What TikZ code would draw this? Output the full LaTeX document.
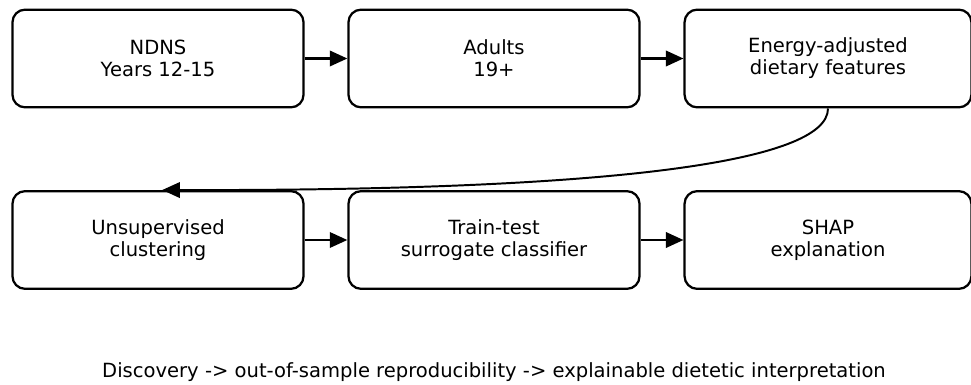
\documentclass[tikz,border=0pt]{standalone}
\usepackage{fontspec}
\setmainfont{DejaVu Sans}
\usepackage{tikz}
\usetikzlibrary{arrows.meta,positioning}
\definecolor{BoxInk}{HTML}{000000}
\tikzset{
  flowbox/.style={draw=BoxInk, line width=1.6pt, rounded corners=9pt, minimum width=207pt, minimum height=69.5pt, align=center, font=\fontsize{13.9}{15.6}\selectfont, inner sep=0pt},
  flowarrow/.style={BoxInk, line width=1.6pt, -{Triangle[length=12.5pt,width=11pt]}}
}
\begin{document}
\begin{tikzpicture}[x=0.025cm, y=-0.025cm]
  \useasboundingbox (0,0) rectangle (971,385);
  \node[flowbox] (ndns) at (158,58.5) {NDNS\\Years 12-15};
  \node[flowbox] (adults) at (494,58.5) {Adults\\19+};
  \node[flowbox, minimum width=204pt] (energy) at (828,58.5) {Energy-adjusted\\dietary features};
  \node[flowbox] (cluster) at (158,240) {Unsupervised\\clustering};
  \node[flowbox] (surrogate) at (494,240) {Train-test\\surrogate classifier};
  \node[flowbox, minimum width=204pt] (shap) at (828,240) {SHAP\\explanation};
  \foreach \a/\b in {ndns/adults, adults/energy, cluster/surrogate, surrogate/shap}{
    \draw[flowarrow] (\a) -- (\b);
  }
  \draw[flowarrow, line width=1.4pt] (energy.south) .. controls (828,163) and (607,191) .. ([xshift=3pt]cluster.north);
  \node[font=\fontsize{13.9}{15.6}\selectfont] (caption) at (494,372) {Discovery -> out-of-sample reproducibility -> explainable dietetic interpretation};
\end{tikzpicture}
\end{document}
